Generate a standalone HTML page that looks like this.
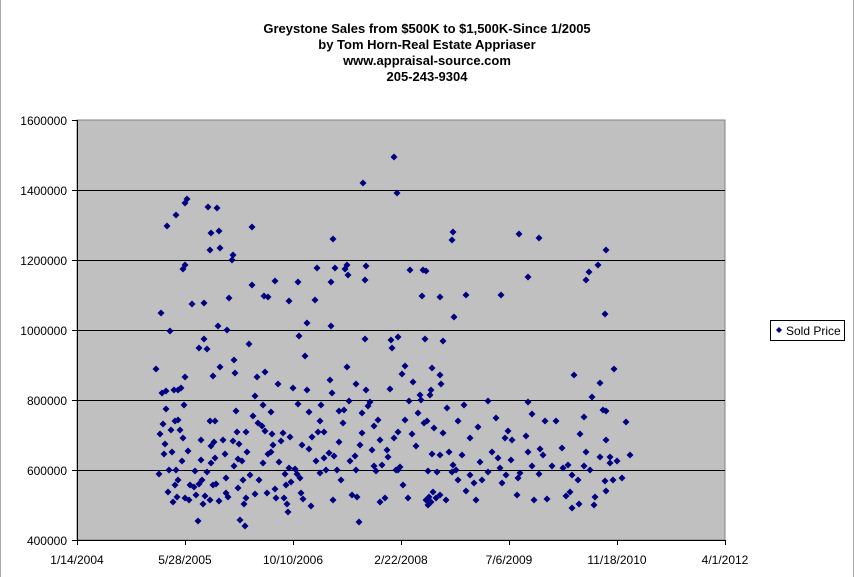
<!DOCTYPE html>
<html><head><meta charset="utf-8"><style>
body{margin:0;background:#fff;}
svg{display:block;font-family:"Liberation Sans",Arial,sans-serif;}
</style></head><body>
<svg id="s" width="854" height="577" xmlns="http://www.w3.org/2000/svg">
<rect x="0" y="0" width="854" height="577" fill="#fff"/>
<line x1="0.5" y1="0" x2="0.5" y2="577" stroke="#aaa"/>
<line x1="853.5" y1="0" x2="853.5" y2="577" stroke="#aaa"/>
<g font-size="13" font-weight="bold" text-anchor="middle" fill="#000">
<text x="427" y="33">Greystone Sales from $500K to $1,500K-Since 1/2005</text>
<text x="427" y="49">by Tom Horn-Real Estate Appriaser</text>
<text x="427" y="65">www.appraisal-source.com</text>
<text x="427" y="81">205-243-9304</text>
</g>
<rect x="77" y="120" width="648" height="420" fill="#c0c0c0" stroke="#808080"/>
<g stroke="#000" stroke-width="1">
<line x1="77" y1="190.5" x2="725" y2="190.5"/>
<line x1="77" y1="260.5" x2="725" y2="260.5"/>
<line x1="77" y1="330.5" x2="725" y2="330.5"/>
<line x1="77" y1="400.5" x2="725" y2="400.5"/>
<line x1="77" y1="470.5" x2="725" y2="470.5"/>
<line x1="77.5" y1="120" x2="77.5" y2="540"/>
<line x1="77" y1="540.5" x2="725" y2="540.5"/>
<line x1="72" y1="120.5" x2="77" y2="120.5"/>
<line x1="72" y1="190.5" x2="77" y2="190.5"/>
<line x1="72" y1="260.5" x2="77" y2="260.5"/>
<line x1="72" y1="330.5" x2="77" y2="330.5"/>
<line x1="72" y1="400.5" x2="77" y2="400.5"/>
<line x1="72" y1="470.5" x2="77" y2="470.5"/>
<line x1="72" y1="540.5" x2="77" y2="540.5"/>
<line x1="77.5" y1="540" x2="77.5" y2="545"/>
<line x1="185.5" y1="540" x2="185.5" y2="545"/>
<line x1="293.5" y1="540" x2="293.5" y2="545"/>
<line x1="401.5" y1="540" x2="401.5" y2="545"/>
<line x1="509.5" y1="540" x2="509.5" y2="545"/>
<line x1="617.5" y1="540" x2="617.5" y2="545"/>
<line x1="725.5" y1="540" x2="725.5" y2="545"/>
</g>
<g font-size="12" text-anchor="end" fill="#000">
<text x="67" y="125">1600000</text><text x="67" y="195">1400000</text>
<text x="67" y="265">1200000</text><text x="67" y="335">1000000</text>
<text x="67" y="405">800000</text><text x="67" y="475">600000</text>
<text x="67" y="545">400000</text>
</g>
<g font-size="12" text-anchor="middle" fill="#000">
<text x="77" y="564">1/14/2004</text><text x="185" y="564">5/28/2005</text>
<text x="293" y="564">10/10/2006</text><text x="401" y="564">2/22/2008</text>
<text x="509" y="564">7/6/2009</text><text x="617" y="564">11/18/2010</text>
<text x="725" y="564">4/1/2012</text>
</g>
<rect x="770.5" y="320.5" width="74" height="20" fill="#fff" stroke="#000"/>
<path d="M779 327l3 3-3 3-3-3z" fill="#000080"/>
<text x="786" y="335" font-size="12" fill="#000">Sold Price</text>
<g id="pts" fill="#000080"></g>
</svg>
<script>
var p=[[156,369],[161,313],[167,226],[170,331],[176,215],[166,391],[162,393],[166,409],[163,424],[174,390],[165,444],[172,452],[178,420],[181,388],[185,203],[187,199],[185,377],[185,265],[183,269],[178,390],[175,421],[180,430],[183,438],[184,405],[192,304],[178,480],[175,485],[190,485],[194,487],[159,474],[173,502],[168,492],[169,470],[177,497],[185,498],[189,500],[196,495],[199,484],[202,480],[205,496],[198,521],[203,504],[201,440],[199,348],[204,339],[207,349],[210,250],[208,207],[211,446],[213,376],[210,421],[214,442],[215,458],[211,463],[216,484],[215,421],[210,500],[218,326],[219,231],[220,367],[223,440],[228,497],[225,454],[226,493],[227,330],[229,298],[232,260],[233,441],[234,360],[237,432],[238,459],[235,373],[236,411],[240,520],[238,488],[242,461],[243,480],[244,504],[245,526],[246,498],[247,452],[249,344],[252,285],[253,416],[255,396],[257,377],[258,423],[259,480],[262,426],[263,405],[265,431],[265,372],[267,493],[268,454],[271,412],[272,434],[273,445],[275,489],[276,498],[278,384],[281,441],[283,433],[285,474],[286,485],[287,504],[288,512],[289,468],[290,437],[293,388],[295,469],[298,404],[300,478],[301,493],[303,499],[305,356],[307,390],[309,412],[311,506],[312,437],[315,300],[318,432],[320,421],[321,405],[324,458],[326,470],[329,453],[330,380],[331,326],[332,393],[333,500],[334,456],[337,470],[339,411],[341,480],[343,423],[345,269],[347,367],[349,401],[350,461],[352,495],[355,456],[356,470],[357,497],[359,522],[360,445],[362,433],[362,413],[365,280],[368,406],[370,402],[372,450],[374,466],[376,471],[378,420],[380,502],[382,465],[385,498],[388,457],[390,389],[392,348],[394,438],[396,470],[398,470],[400,467],[403,485],[408,498],[412,434],[416,446],[420,395],[421,400],[424,423],[427,421],[428,471],[430,395],[432,454],[434,428],[437,472],[440,455],[440,495],[443,433],[446,500],[449,452],[452,472],[453,465],[456,470],[458,480],[462,455],[464,405],[466,491],[470,475],[474,483],[476,500],[480,462],[482,480],[488,472],[492,452],[498,458],[500,468],[502,483],[506,475],[508,431],[512,440],[517,495],[520,473],[526,436],[528,452],[534,500],[539,474],[543,455],[547,499],[552,466],[556,421],[562,448],[568,465],[572,475],[578,480],[584,466],[586,452],[590,470],[595,497],[600,457],[603,410],[606,491],[610,463],[613,480],[617,461],[622,478],[626,422],[630,455],
[363,183],[394,157],[397,193],[333,239],[347,265],[335,268],[348,275],[366,266],[331,282],[317,268],[252,227],[233,255],[217,208],[211,233],[220,248],[204,303],[410,270],[423,270],[426,271],[440,297],[443,341],[422,296],[425,339],[454,317],[453,232],[452,240],[466,295],[501,295],[519,234],[528,277],[539,238],[606,250],[598,265],[589,272],[586,280],[605,314],[614,369],[264,296],[268,297],[289,301],[307,323],[299,336],[298,282],[275,281],[365,339],[391,340],[398,337],[405,366],[402,374],[432,368],[440,375],[574,375],[528,402],[532,414],[545,421],[606,411],[600,383],[592,397],[584,417],[580,434],[606,440],[610,457],[605,481],[594,505],[579,504],[572,508],[566,496],[570,492],[563,468],[540,449],[532,466],[518,478],[511,460],[505,438],[496,418],[488,401],[478,427],[470,438],[458,421],[447,408],[441,384],[431,390],[418,413],[413,382],[409,401],[405,420],[398,432],[387,450],[380,440],[374,426],[366,390],[356,384],[344,410],[339,442],[324,432],[320,473],[316,461],[309,449],[302,445],[297,474],[291,482],[284,498],[279,462],[271,452],[263,463],[255,494],[250,475],[246,432],[239,444],[234,466],[226,478],[219,501],[213,485],[207,472],[201,460],[195,471],[188,451],[182,461],[176,470],[171,430],[164,454],[160,434],[429,497],[431,502],[428,505],[433,492],[436,498],[426,500]];
var g=document.getElementById('pts'),h='';
p.forEach(function(a){var x=a[0],y=a[1];h+='<path d="M'+x+' '+(y-3.5)+'l3.5 3.5-3.5 3.5-3.5-3.5z"/>';});
g.innerHTML=h;
</script>
</body></html>
